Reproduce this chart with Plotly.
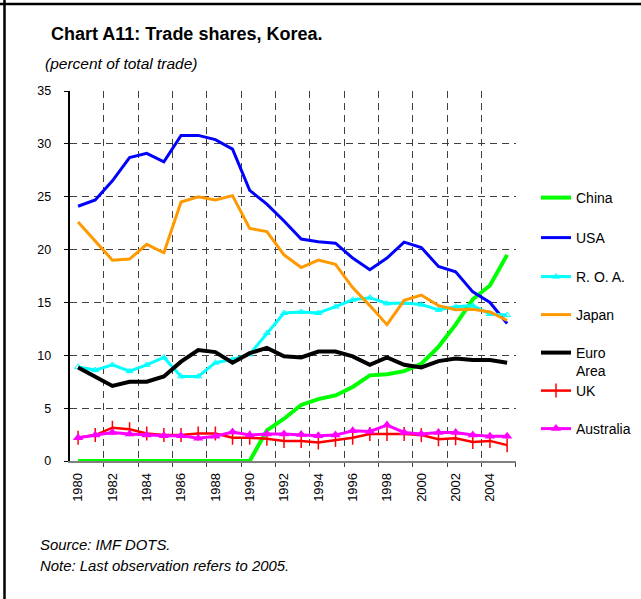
import plotly.graph_objects as go

W, H = 641, 599

years = list(range(1980, 2006))
china = [0, 0, 0, 0, 0, 0, 0, 0, 0, 0, 0,
         2.9, 4.0, 5.3, 5.85, 6.2, 7.0, 8.1, 8.2, 8.5, 9.2, 10.8, 12.9, 15.3, 16.6, 19.5]
usa = [24.1, 24.7, 26.5, 28.7, 29.1, 28.3, 30.8, 30.8, 30.4, 29.5, 25.6, 24.3, 22.7,
       21.0, 20.75, 20.6, 19.2, 18.1, 19.2, 20.7, 20.2, 18.4, 17.9, 16.0, 15.0, 13.0]
roa = [8.9, 8.6, 9.1, 8.5, 9.1, 9.8, 8.0, 8.0, 9.3, 9.6, 10.1, 12.1, 14.0,
       14.1, 14.0, 14.6, 15.25, 15.45, 14.9, 14.95, 14.8, 14.3, 14.6, 14.7, 13.9, 13.8]
japan = [22.6, 20.8, 19.0, 19.1, 20.5, 19.7, 24.5, 25.0, 24.7, 25.1, 22.0, 21.7, 19.5,
         18.3, 19.0, 18.6, 16.4, 14.7, 12.9, 15.2, 15.7, 14.7, 14.3, 14.35, 14.1, 13.3]
euro = [8.85, 8.0, 7.1, 7.5, 7.5, 8.0, 9.4, 10.5, 10.3, 9.3, 10.2, 10.7, 9.9,
        9.8, 10.35, 10.35, 9.9, 9.1, 9.8, 9.1, 8.85, 9.45, 9.7, 9.55, 9.55, 9.3]
uk = [2.2, 2.45, 3.15, 3.0, 2.6, 2.45, 2.45, 2.6, 2.6, 2.2, 2.2, 2.1, 1.9,
      1.9, 1.75, 2.0, 2.2, 2.55, 2.55, 2.55, 2.45, 2.05, 2.15, 1.8, 1.9, 1.5]
australia = [2.2, 2.45, 2.7, 2.55, 2.45, 2.4, 2.4, 2.15, 2.35, 2.75, 2.45, 2.55, 2.55,
             2.5, 2.4, 2.45, 2.85, 2.8, 3.4, 2.7, 2.55, 2.7, 2.7, 2.45, 2.35, 2.35]

series_names = ["China", "USA", "R. O. A.", "Japan", "Euro<br>Area", "UK", "Australia"]
year_ticks = list(range(1980, 2005, 2))
year_labels = [str(y) for y in year_ticks]
y_ticks = list(range(0, 36, 5))
boundaries = [y + 1.5 for y in range(1980, 2005, 2)]

title_text = "Chart A11: Trade shares, Korea."
subtitle_text = "(percent of total trade)"
source_text = "Source: IMF DOTS."
note_text = "Note: Last observation refers to 2005."

FONT = "Liberation Sans, Arial, sans-serif"


def fx(px):
    return px / W


def fy(py):
    return 1 - py / H


styles = [
    dict(color="#00FF00", width=4, marker=None),
    dict(color="#0000FF", width=3, marker=None),
    dict(color="#00FFFF", width=3, marker=dict(symbol="triangle-up-open", size=6,
                                                color="#00FFFF", line=dict(width=1, color="#00FFFF"))),
    dict(color="#FF9900", width=3, marker=None),
    dict(color="#000000", width=4, marker=None),
    dict(color="#FF0000", width=2.5, marker=dict(symbol="line-ns", size=10,
                                                  line=dict(width=1.5, color="#FF0000"))),
    dict(color="#FF00FF", width=3, marker=dict(symbol="triangle-up", size=9, color="#FF00FF")),
]
values = [china, usa, roa, japan, euro, uk, australia]
legend_ids = ["legend", "legend2", "legend3", "legend4", "legend5", "legend6", "legend7"]
legend_y = [198, 238, 277, 315, 353, 391, 429]

fig = go.Figure()
for name, vals, st, lid in zip(series_names, values, styles, legend_ids):
    kw = dict(x=years, y=vals, name=name, legend=lid,
              line=dict(color=st["color"], width=st["width"]))
    if st["marker"] is not None:
        kw["mode"] = "lines+markers"
        kw["marker"] = st["marker"]
    else:
        kw["mode"] = "lines"
    fig.add_trace(go.Scatter(**kw))

layout_legends = {}
for lid, ly in zip(legend_ids, legend_y):
    layout_legends[lid] = dict(
        x=fx(536), xanchor="left",
        y=fy(ly - 16), yanchor="top",
        font=dict(family=FONT, size=14, color="#000000"),
        bgcolor="rgba(0,0,0,0)", borderwidth=0,
        valign="top", itemclick=False, itemdoubleclick=False,
    )

fig.update_layout(
    template="none",
    width=W, height=H, autosize=False,
    margin=dict(l=0, r=0, t=0, b=0, pad=0, autoexpand=False),
    paper_bgcolor="#FFFFFF", plot_bgcolor="#FFFFFF",
    font=dict(family=FONT, color="#000000"),
    showlegend=True,
    **layout_legends,
    xaxis=dict(
        domain=[fx(69.5), fx(515.7)],
        range=[1979.5, 2005.5], automargin=False,
        tickmode="array", tickvals=year_ticks, ticktext=year_labels,
        tickangle=-90, ticks="", ticklabelstandoff=5,
        tickfont=dict(family=FONT, size=13, color="#000000"),
        showgrid=False, zeroline=False,
        showline=True, linecolor="#808080", linewidth=1.5,
        minor=dict(tickmode="array", tickvals=boundaries, showgrid=True,
                   gridcolor="#404040", griddash="7px,5px", gridwidth=1,
                   ticks="outside", ticklen=4, tickcolor="#404040"),
        fixedrange=True,
    ),
    yaxis=dict(
        domain=[fy(461), fy(91)],
        range=[0, 35], automargin=False,
        tickmode="array", tickvals=y_ticks,
        ticks="outside", ticklen=4, tickcolor="#000000",
        ticklabelstandoff=10,
        tickfont=dict(family=FONT, size=12.5, color="#000000"),
        showgrid=True, gridcolor="#404040", griddash="7px,5px", gridwidth=1,
        zeroline=False,
        showline=True, linecolor="#000000", linewidth=1.5,
        fixedrange=True,
    ),
)

annotations = [
    dict(text="<b>" + title_text + "</b>", x=fx(49), y=fy(34), size=18),
    dict(text="<i>" + subtitle_text + "</i>", x=fx(43), y=fy(63), size=15.5),
    dict(text="<i>" + source_text + "</i>", x=fx(38), y=fy(545), size=14.9),
    dict(text="<i>" + note_text + "</i>", x=fx(38), y=fy(566), size=14.9),
]
for a in annotations:
    fig.add_annotation(text=a["text"], x=a["x"], y=a["y"], xref="paper", yref="paper",
                       xanchor="left", yanchor="middle", showarrow=False,
                       font=dict(family=FONT, size=a["size"], color="#000000"))

# outer frame (top and left edges)
fig.add_shape(type="line", xref="paper", yref="paper", x0=0, x1=1, y0=fy(4), y1=fy(4),
              line=dict(color="#000000", width=2.5))
fig.add_shape(type="line", xref="paper", yref="paper", x0=fx(4.5), x1=fx(4.5), y0=0, y1=1,
              line=dict(color="#000000", width=2.5))

fig.write_html("out.html", config={"displayModeBar": False},
               post_script="document.body.style.margin='0';")
